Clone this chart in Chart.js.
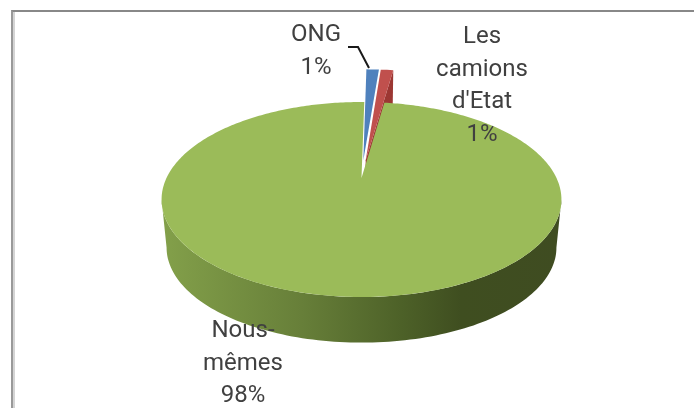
<!DOCTYPE html>
<html lang="fr">
<head>
  <meta charset="UTF-8">
  <title>Moyens de transport</title>
  <script src="https://cdn.jsdelivr.net/npm/chart.js"></script>
  <style>
    html, body {
      margin: 0;
      padding: 0;
      background: #fff;
    }

    #chartContainer {
      position: relative;
      width: 694px;
      height: 408px;
      overflow: hidden;
    }

    #frame {
      position: absolute;
      left: 11px;
      top: 10px;
      width: 700px;
      height: 420px;
      border-top: 2px solid #888;
      border-left: 2px solid #999;
      box-shadow: inset 2px 0 0 #d4d4d4;
      box-sizing: border-box;
    }

    canvas {
      position: absolute;
      left: 0;
      top: 0;
    }
  </style>
</head>
<body>

  <div id="chartContainer">
    <div id="frame"></div>
    <canvas id="pieChart" width="694" height="408"></canvas>
  </div>

  <script>
    const categories = ["ONG", "Les camions d'Etat", "Nous-mêmes"];
    const shares = [1, 1, 98];
    const sliceColors = ["#4f81bd", "#c0504d", "#9bbb59"];

    // Where each category name wraps, and where its label block sits
    const labelLines = [["ONG"], ["Les", "camions", "d'Etat"], ["Nous-", "mêmes"]];
    const labelCenters = [[316, 35], [482, 37], [243, 331]];
    const LINE_HEIGHT = 32.7;

    // Perspective of the tilted disc
    const TILT = 0.2206;
    const FLATTEN = 0.4756;
    const CENTER_LIFT = 17;
    const DEPTH = 48.6;
    const BASE_SCALE = 0.975;

    // The two small slices are pulled out towards the back
    const PULL_OUT = 0.2;
    const PULLED_RADIUS = 1.38;

    function project(arc, u, v, lower) {
      const s = lower ? BASE_SCALE : 1;
      const w = 1 - TILT * v;
      return [
        arc.x + arc.outerRadius * s * u / w,
        arc.y - CENTER_LIFT + (lower ? DEPTH : 0) + arc.outerRadius * FLATTEN * s * v / w
      ];
    }

    function sectorPath(ctx, arc, radius, pull) {
      const mid = (arc.startAngle + arc.endAngle) / 2;
      const u0 = pull * Math.cos(mid);
      const v0 = pull * Math.sin(mid);
      const steps = Math.max(4, Math.ceil((arc.endAngle - arc.startAngle) * 60));
      ctx.beginPath();
      ctx.moveTo(...project(arc, u0, v0));
      for (let i = 0; i <= steps; i++) {
        const a = arc.startAngle + (arc.endAngle - arc.startAngle) * i / steps;
        ctx.lineTo(...project(arc, u0 + radius * Math.cos(a), v0 + radius * Math.sin(a)));
      }
      ctx.closePath();
    }

    // Cut face along the end edge of a pulled-out slice
    function cutFacePath(ctx, arc, radius, pull) {
      const mid = (arc.startAngle + arc.endAngle) / 2;
      const u0 = pull * Math.cos(mid);
      const v0 = pull * Math.sin(mid);
      const u1 = u0 + radius * Math.cos(arc.endAngle);
      const v1 = v0 + radius * Math.sin(arc.endAngle);
      ctx.beginPath();
      ctx.moveTo(...project(arc, u0, v0));
      ctx.lineTo(...project(arc, u1, v1));
      ctx.lineTo(...project(arc, u1, v1, true));
      ctx.lineTo(...project(arc, u0, v0, true));
      ctx.closePath();
    }

    function drawWall(ctx, arc) {
      // Outer wall between the silhouette points of the disc
      const from = Math.asin(TILT);
      const to = Math.PI - from;
      const steps = 120;
      ctx.beginPath();
      for (let i = 0; i <= steps; i++) {
        const a = from + (to - from) * i / steps;
        ctx.lineTo(...project(arc, Math.cos(a), Math.sin(a)));
      }
      for (let i = steps; i >= 0; i--) {
        const a = from + (to - from) * i / steps;
        ctx.lineTo(...project(arc, Math.cos(a), Math.sin(a), true));
      }
      ctx.closePath();
      const wall = ctx.createLinearGradient(162, 0, 561, 0);
      wall.addColorStop(0, "#83a04a");
      wall.addColorStop(0.35, "#677f39");
      wall.addColorStop(0.6, "#4d6128");
      wall.addColorStop(0.75, "#3f4e20");
      wall.addColorStop(1, "#3f4c21");
      ctx.fillStyle = wall;
      ctx.fill();
    }

    function drawLabels(ctx, values) {
      const total = values.reduce((a, b) => a + b, 0);
      ctx.font = "24px Roboto";
      ctx.fillStyle = "#404040";
      ctx.textAlign = "center";
      ctx.textBaseline = "middle";
      labelLines.forEach((lines, i) => {
        const [x, y] = labelCenters[i];
        lines.forEach((line, n) => ctx.fillText(line, x, y + n * LINE_HEIGHT));
        const percent = Math.round(values[i] / total * 100) + "%";
        ctx.fillText(percent, x, y + lines.length * LINE_HEIGHT);
      });
    }

    function drawLeader(ctx) {
      ctx.beginPath();
      ctx.moveTo(348, 47);
      ctx.lineTo(358, 47);
      ctx.lineTo(369, 68);
      ctx.strokeStyle = "#1a1a1a";
      ctx.lineWidth = 2;
      ctx.stroke();
    }

    const tiltedPie = {
      id: "tiltedPie",
      beforeDatasetsDraw(chart) {
        const ctx = chart.ctx;
        const arcs = chart.getDatasetMeta(0).data;
        ctx.save();

        cutFacePath(ctx, arcs[1], PULLED_RADIUS, PULL_OUT);
        ctx.fillStyle = "#9c3733";
        ctx.fill();

        sectorPath(ctx, arcs[0], PULLED_RADIUS, PULL_OUT);
        ctx.fillStyle = sliceColors[0];
        ctx.fill();

        sectorPath(ctx, arcs[1], PULLED_RADIUS, PULL_OUT);
        ctx.fillStyle = sliceColors[1];
        ctx.fill();

        drawWall(ctx, arcs[2]);
        sectorPath(ctx, arcs[2], 1, 0);
        ctx.fillStyle = sliceColors[2];
        ctx.fill();

        drawLeader(ctx);
        drawLabels(ctx, shares);
        ctx.restore();
        return false;
      }
    };

    new Chart(document.getElementById("pieChart"), {
      type: "pie",
      data: {
        labels: categories,
        datasets: [{ data: shares, backgroundColor: sliceColors, borderWidth: 0 }]
      },
      options: {
        responsive: false,
        animation: false,
        rotation: 1,
        layout: { padding: { left: 166.5, right: 137.5, top: 0, bottom: 18 } },
        plugins: {
          legend: { display: false },
          title: { display: false },
          tooltip: { enabled: false }
        }
      },
      plugins: [tiltedPie]
    });
  </script>

</body>
</html>
